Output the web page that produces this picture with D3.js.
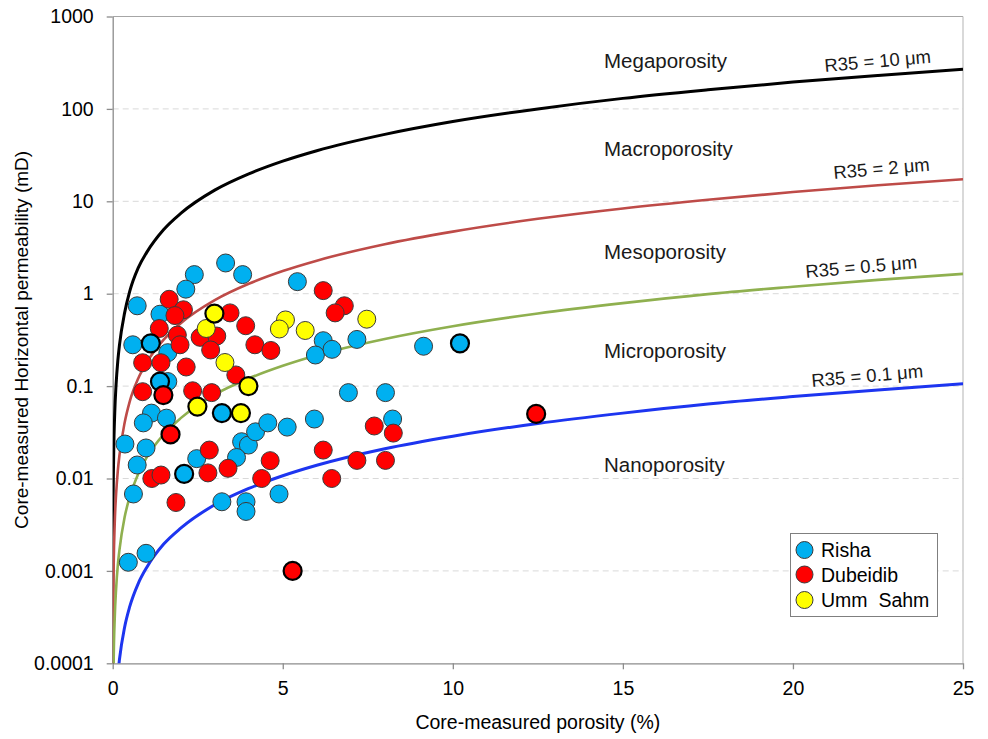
<!DOCTYPE html>
<html><head><meta charset="utf-8">
<script src="https://cdn.jsdelivr.net/npm/d3@7"></script>
<style>
body{margin:0;background:#fff;}
svg{display:block;font-family:"Liberation Sans",Arial,sans-serif;}
</style></head>
<body><svg id="chart" width="988" height="739"></svg>
<script>
// ---------- data ----------
const xTicks = [0, 5, 10, 15, 20, 25];
const yTicks = [0.0001, 0.001, 0.01, 0.1, 1, 10, 100, 1000];
const yTickLabels = ["0.0001", "0.001", "0.01", "0.1", "1", "10", "100", "1000"];
const yGrid = [0.001, 0.01, 0.1, 1, 10, 100];

// R35 iso-pore-throat lines (porosity %, permeability mD)
const curvePorosity = [0.0005, 0.002, 0.01, 0.03, 0.06, 0.1, 0.15, 0.2, 0.35, 0.5, 0.75, 1, 1.5, 2, 3, 4, 5, 6, 8, 10, 12.5, 15, 17.5, 20, 22.5, 25];
const r35_10  = [0.000057, 0.00041, 0.0040, 0.019, 0.051, 0.105, 0.187, 0.28, 0.62, 1.06, 1.9, 2.8, 4.95, 7.4, 13.2, 19.8, 27.2, 35.3, 53, 73, 100, 130, 161, 195, 230, 268];
const r35_2   = [0.0000037, 0.000026, 0.00026, 0.0012, 0.0033, 0.0068, 0.0121, 0.018, 0.040, 0.068, 0.121, 0.180, 0.318, 0.479, 0.851, 1.28, 1.76, 2.28, 3.43, 4.70, 6.46, 8.37, 10.4, 12.6, 14.9, 17.3];
const r35_05  = [0.00000035, 0.0000025, 0.0000244, 0.000116, 0.00031, 0.00064, 0.00115, 0.0017, 0.0038, 0.0063, 0.0112, 0.0169, 0.030, 0.045, 0.081, 0.121, 0.166, 0.216, 0.324, 0.445, 0.611, 0.79, 0.99, 1.19, 1.41, 1.64];
const r35_01  = [0.000000022, 0.00000016, 0.0000016, 0.0000075, 0.00002, 0.000041, 0.000074, 0.000111, 0.000246, 0.00041, 0.00073, 0.00109, 0.00195, 0.0029, 0.0052, 0.0078, 0.0107, 0.0139, 0.021, 0.0287, 0.0394, 0.051, 0.064, 0.077, 0.091, 0.106];

const curveNames = ["R35 = 10 μm", "R35 = 2 μm", "R35 = 0.5 μm", "R35 = 0.1 μm"];
const zoneNames = ["Megaporosity", "Macroporosity", "Mesoporosity", "Microporosity", "Nanoporosity"];

// Risha
const rishaPorosity = [3.32, 3.82, 2.40, 2.15, 0.72, 1.39, 0.59, 1.12, 1.62, 1.39, 1.62, 5.43, 1.14, 0.90, 1.58, 0.36, 0.98, 3.21, 3.79, 3.99, 4.20, 4.56, 5.13, 0.72, 0.61, 2.10, 2.47, 3.64, 3.21, 3.92, 3.92, 4.89, 0.46, 0.98, 6.19, 5.96, 6.45, 7.18, 9.14, 10.21, 6.93, 8.02, 5.93, 8.23];
const rishaPerm     = [2.15, 1.61, 1.61, 1.12, 0.74, 0.60, 0.28, 0.29, 0.23, 0.112, 0.112, 1.35, 0.051, 0.040, 0.045, 0.0236, 0.0214, 0.051, 0.025, 0.023, 0.032, 0.040, 0.036, 0.014, 0.0068, 0.0112, 0.0164, 0.0169, 0.0056, 0.0056, 0.0044, 0.0068, 0.00124, 0.00155, 0.31, 0.217, 0.25, 0.32, 0.27, 0.29, 0.085, 0.085, 0.044, 0.044];
const rishaOutlined = [7, 9, 17, 25, 39];

// Dubeidib
const dubeidibPorosity = [1.66, 2.08, 1.83, 1.37, 1.90, 1.98, 0.88, 1.42, 2.16, 2.57, 3.06, 2.88, 3.45, 3.91, 4.18, 4.65, 3.62, 0.88, 1.49, 2.35, 2.91, 1.70, 2.84, 1.15, 1.42, 2.80, 3.39, 1.86, 4.38, 4.63, 5.29, 6.19, 6.81, 6.54, 6.19, 6.44, 7.18, 8.02, 7.69, 8.25, 12.45];
const dubeidibPerm     = [0.87, 0.67, 0.58, 0.42, 0.357, 0.28, 0.179, 0.179, 0.161, 0.337, 0.348, 0.246, 0.62, 0.45, 0.28, 0.243, 0.132, 0.087, 0.080, 0.089, 0.085, 0.030, 0.0203, 0.0100, 0.0109, 0.0115, 0.0129, 0.0055, 0.0100, 0.0156, 0.0010, 1.08, 0.74, 0.62, 0.0203, 0.0100, 0.0157, 0.0157, 0.037, 0.031, 0.050];
const dubeidibOutlined = [18, 21, 30, 40];

// Umm Sahm
const ummSahmPorosity = [2.99, 2.75, 3.30, 3.99, 2.49, 3.77, 5.08, 4.90, 5.66, 7.47];
const ummSahmPerm     = [0.61, 0.42, 0.18, 0.100, 0.060, 0.051, 0.52, 0.415, 0.40, 0.53];
const ummSahmOutlined = [0, 3, 4, 5];

const seriesNames = ["Risha", "Dubeidib", "Umm  Sahm"];

// ---------- layout / style ----------
const L = 112.7, R = 963, T = 16.5, B = 663.3;
const svg = d3.select("#chart");
svg.append("rect").attr("width", 988).attr("height", 739).attr("fill", "#fff");

const x = d3.scaleLinear().domain([0, 25]).range([L, R]);
const y = d3.scaleLog().domain([0.0001, 1000]).range([B, T]);

const axisColor = "#8c8c8c";

// gridlines
svg.append("g").selectAll("line").data(yGrid).join("line")
  .attr("x1", L).attr("x2", R).attr("y1", d => y(d)).attr("y2", d => y(d))
  .attr("stroke", "#d9d9d9").attr("stroke-width", 1).attr("stroke-dasharray", "6,4");

// top & right border
svg.append("line").attr("x1", L).attr("x2", R).attr("y1", y(1000)).attr("y2", y(1000))
  .attr("stroke", "#a6a6a6");
svg.append("line").attr("x1", R).attr("x2", R).attr("y1", T).attr("y2", B)
  .attr("stroke", "#b3b3b3");

// axes
const yAxis = d3.axisLeft(y).tickValues(yTicks)
  .tickFormat((d, i) => yTickLabels[i]).tickSize(6).tickSizeOuter(0).tickPadding(13);
const gy = svg.append("g").attr("transform", `translate(${L},0)`).call(yAxis);
const xAxis = d3.axisBottom(x).tickValues(xTicks).tickFormat(d3.format("d"))
  .tickSize(6).tickSizeOuter(0).tickPadding(12);
const gx = svg.append("g").attr("transform", `translate(0,${B})`).call(xAxis);
[gx, gy].forEach(g => {
  g.select(".domain").attr("stroke", axisColor).attr("stroke-width", 1.3);
  g.selectAll(".tick line").attr("stroke", axisColor).attr("stroke-width", 1.3);
  g.selectAll(".tick text").attr("fill", "#000").attr("font-size", 19.5)
    .attr("font-family", "'Liberation Sans', Arial, sans-serif");
});

// axis titles
svg.append("text").attr("x", (L + R) / 2).attr("y", 729).attr("text-anchor", "middle")
  .attr("font-size", 19.5).attr("fill", "#000").text("Core-measured porosity (%)");
svg.append("text").attr("transform", `translate(28,${(T + B) / 2}) rotate(-90)`)
  .attr("text-anchor", "middle").attr("font-size", 19).attr("fill", "#000")
  .text("Core-measured Horizontal permeability (mD)");

// curves
svg.append("clipPath").attr("id", "plotClip").append("rect")
  .attr("x", L).attr("y", T).attr("width", R - L).attr("height", B - T);
const curves = [
  { vals: r35_10, color: "#000000", w: 3 },
  { vals: r35_2, color: "#BE4B48", w: 2.6 },
  { vals: r35_05, color: "#8FB04F", w: 2.6 },
  { vals: r35_01, color: "#1D35F0", w: 3 }
];
const line = d3.line().x(d => x(d[0])).y(d => y(d[1])).curve(d3.curveMonotoneX);
const gc = svg.append("g").attr("clip-path", "url(#plotClip)");
curves.forEach(c => {
  gc.append("path").datum(curvePorosity.map((p, i) => [p, c.vals[i]]))
    .attr("d", line).attr("fill", "none").attr("stroke", c.color).attr("stroke-width", c.w);
});

// zone labels
const zoneY = [68, 155.5, 259, 358, 472];
svg.append("g").selectAll("text").data(zoneNames).join("text")
  .attr("x", 604).attr("y", (d, i) => zoneY[i]).attr("font-size", 20.5).attr("fill", "#1a1a1a")
  .text(d => d);

// R35 labels
const r35Pos = [[825, 72], [834, 179], [806, 278], [812, 387]];
svg.append("g").selectAll("text").data(curveNames).join("text")
  .attr("transform", (d, i) => `translate(${r35Pos[i][0]},${r35Pos[i][1]}) rotate(-5)`)
  .attr("font-size", 18.5).attr("fill", "#1a1a1a").text(d => d);

// points
const colors = ["#00B0F0", "#FF0000", "#FFFF00"];
const seriesData = [
  [rishaPorosity, rishaPerm, rishaOutlined],
  [dubeidibPorosity, dubeidibPerm, dubeidibOutlined],
  [ummSahmPorosity, ummSahmPerm, ummSahmOutlined]
];
const gp = svg.append("g");
const boldPts = [];
seriesData.forEach(([px, pk, ol], s) => {
  const pts = px.map((p, i) => ({ p, k: pk[i], s, bold: ol.includes(i) }));
  gp.append("g").selectAll("circle").data(pts.filter(d => !d.bold)).join("circle")
    .attr("cx", d => x(d.p)).attr("cy", d => y(d.k)).attr("r", 9)
    .attr("fill", colors[s]).attr("stroke", "#3a3a3a").attr("stroke-width", 1);
  pts.filter(d => d.bold).forEach(d => boldPts.push(d));
});
gp.append("g").selectAll("circle").data(boldPts).join("circle")
  .attr("cx", d => x(d.p)).attr("cy", d => y(d.k)).attr("r", 9)
  .attr("fill", d => colors[d.s]).attr("stroke", "#000").attr("stroke-width", 2.2);

// legend
const lg = svg.append("g");
lg.append("rect").attr("x", 790.5).attr("y", 533.5).attr("width", 147).attr("height", 83)
  .attr("fill", "#fff").attr("stroke", "#7f7f7f").attr("stroke-width", 1);
const legY = [550, 574.5, 600];
lg.selectAll("circle").data(seriesNames).join("circle")
  .attr("cx", 804.5).attr("cy", (d, i) => legY[i]).attr("r", 8.5)
  .attr("fill", (d, i) => colors[i]).attr("stroke", "#3a3a3a").attr("stroke-width", 1);
lg.selectAll("text").data(seriesNames).join("text")
  .attr("x", 821).attr("y", (d, i) => legY[i] + 7).attr("font-size", 19.5)
  .attr("fill", "#000").attr("xml:space", "preserve").style("white-space", "pre")
  .text(d => d);
</script></body></html>
